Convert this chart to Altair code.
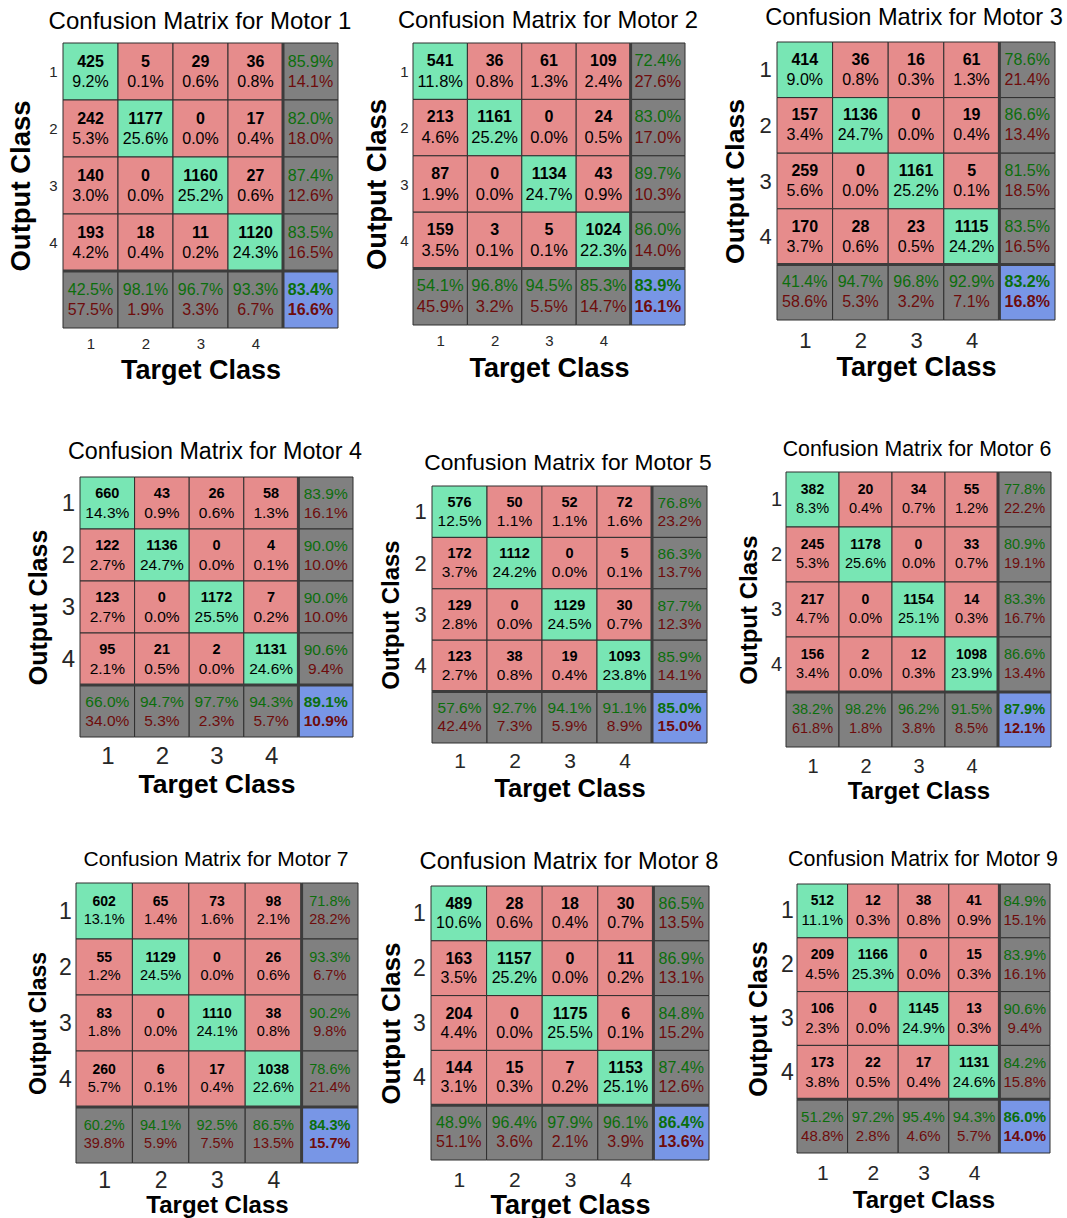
import altair as alt
import pandas as pd

# ---------------------------------------------------------------- data
CLASS_TICKS = [0.5, 1.5, 2.5, 3.5]

counts_1 = [[425, 5, 29, 36], [242, 1177, 0, 17], [140, 0, 1160, 27], [193, 18, 11, 1120]]
pct_1 = [[9.2, 0.1, 0.6, 0.8], [5.3, 25.6, 0.0, 0.4], [3.0, 0.0, 25.2, 0.6], [4.2, 0.4, 0.2, 24.3]]
row_acc_1 = [85.9, 82.0, 87.4, 83.5]
col_acc_1 = [42.5, 98.1, 96.7, 93.3]

counts_2 = [[541, 36, 61, 109], [213, 1161, 0, 24], [87, 0, 1134, 43], [159, 3, 5, 1024]]
pct_2 = [[11.8, 0.8, 1.3, 2.4], [4.6, 25.2, 0.0, 0.5], [1.9, 0.0, 24.7, 0.9], [3.5, 0.1, 0.1, 22.3]]
row_acc_2 = [72.4, 83.0, 89.7, 86.0]
col_acc_2 = [54.1, 96.8, 94.5, 85.3]

counts_3 = [[414, 36, 16, 61], [157, 1136, 0, 19], [259, 0, 1161, 5], [170, 28, 23, 1115]]
pct_3 = [[9.0, 0.8, 0.3, 1.3], [3.4, 24.7, 0.0, 0.4], [5.6, 0.0, 25.2, 0.1], [3.7, 0.6, 0.5, 24.2]]
row_acc_3 = [78.6, 86.6, 81.5, 83.5]
col_acc_3 = [41.4, 94.7, 96.8, 92.9]

counts_4 = [[660, 43, 26, 58], [122, 1136, 0, 4], [123, 0, 1172, 7], [95, 21, 2, 1131]]
pct_4 = [[14.3, 0.9, 0.6, 1.3], [2.7, 24.7, 0.0, 0.1], [2.7, 0.0, 25.5, 0.2], [2.1, 0.5, 0.0, 24.6]]
row_acc_4 = [83.9, 90.0, 90.0, 90.6]
col_acc_4 = [66.0, 94.7, 97.7, 94.3]

counts_5 = [[576, 50, 52, 72], [172, 1112, 0, 5], [129, 0, 1129, 30], [123, 38, 19, 1093]]
pct_5 = [[12.5, 1.1, 1.1, 1.6], [3.7, 24.2, 0.0, 0.1], [2.8, 0.0, 24.5, 0.7], [2.7, 0.8, 0.4, 23.8]]
row_acc_5 = [76.8, 86.3, 87.7, 85.9]
col_acc_5 = [57.6, 92.7, 94.1, 91.1]

counts_6 = [[382, 20, 34, 55], [245, 1178, 0, 33], [217, 0, 1154, 14], [156, 2, 12, 1098]]
pct_6 = [[8.3, 0.4, 0.7, 1.2], [5.3, 25.6, 0.0, 0.7], [4.7, 0.0, 25.1, 0.3], [3.4, 0.0, 0.3, 23.9]]
row_acc_6 = [77.8, 80.9, 83.3, 86.6]
col_acc_6 = [38.2, 98.2, 96.2, 91.5]

counts_7 = [[602, 65, 73, 98], [55, 1129, 0, 26], [83, 0, 1110, 38], [260, 6, 17, 1038]]
pct_7 = [[13.1, 1.4, 1.6, 2.1], [1.2, 24.5, 0.0, 0.6], [1.8, 0.0, 24.1, 0.8], [5.7, 0.1, 0.4, 22.6]]
row_acc_7 = [71.8, 93.3, 90.2, 78.6]
col_acc_7 = [60.2, 94.1, 92.5, 86.5]

counts_8 = [[489, 28, 18, 30], [163, 1157, 0, 11], [204, 0, 1175, 6], [144, 15, 7, 1153]]
pct_8 = [[10.6, 0.6, 0.4, 0.7], [3.5, 25.2, 0.0, 0.2], [4.4, 0.0, 25.5, 0.1], [3.1, 0.3, 0.2, 25.1]]
row_acc_8 = [86.5, 86.9, 84.8, 87.4]
col_acc_8 = [48.9, 96.4, 97.9, 96.1]

counts_9 = [[512, 12, 38, 41], [209, 1166, 0, 15], [106, 0, 1145, 13], [173, 22, 17, 1131]]
pct_9 = [[11.1, 0.3, 0.8, 0.9], [4.5, 25.3, 0.0, 0.3], [2.3, 0.0, 24.9, 0.3], [3.8, 0.5, 0.4, 24.6]]
row_acc_9 = [84.9, 83.9, 90.6, 84.2]
col_acc_9 = [51.2, 97.2, 95.4, 94.3]

overall_acc = [83.4, 83.9, 83.2, 89.1, 85.0, 87.9, 84.3, 86.4, 86.0]

MOTORS = [
    (counts_1, pct_1, row_acc_1, col_acc_1),
    (counts_2, pct_2, row_acc_2, col_acc_2),
    (counts_3, pct_3, row_acc_3, col_acc_3),
    (counts_4, pct_4, row_acc_4, col_acc_4),
    (counts_5, pct_5, row_acc_5, col_acc_5),
    (counts_6, pct_6, row_acc_6, col_acc_6),
    (counts_7, pct_7, row_acc_7, col_acc_7),
    (counts_8, pct_8, row_acc_8, col_acc_8),
    (counts_9, pct_9, row_acc_9, col_acc_9),
]

# ---------------------------------------------------------------- layout
# Each motor sits in a CELL_W x CELL_H cell of a 3x3 grid; the matrix box,
# labels and titles are placed inside the cell (page pixel coordinates).
CELL_W, CELL_H = 355, 406
FONT = "Liberation Sans"

LAYOUT = [
    dict(box=(63, 43, 338, 328), title=(200, 21, 24), xlab=(343, 15), xtitle=(370, 27), ylab=(53, 15), ytitle=(21, 27.5), text=(16, 16, 10)),
    dict(box=(413, 43, 685, 325), title=(548, 20, 23.8), xlab=(340, 15), xtitle=(368, 27), ylab=(404, 15), ytitle=(377, 27.5), text=(16, 16.5, 10.5)),
    dict(box=(777, 42, 1055, 320), title=(914, 17.5, 23.6), xlab=(340, 22), xtitle=(367, 27), ylab=(765, 22), ytitle=(735, 26.5), text=(16, 16, 10)),
    dict(box=(80, 477, 353, 737), title=(215, 451.5, 23.3), xlab=(756, 24), xtitle=(784, 26.5), ylab=(68, 24), ytitle=(38, 25), text=(14.5, 15.5, 9.5)),
    dict(box=(432, 486, 707, 743), title=(568, 462.5, 22.8), xlab=(761, 21), xtitle=(788, 25.5), ylab=(420, 22), ytitle=(391, 24), text=(14.5, 15.5, 9)),
    dict(box=(786, 472, 1051, 747), title=(917, 449.5, 21.3), xlab=(766, 20), xtitle=(791, 24), ylab=(776, 20), ytitle=(749, 24), text=(14, 14.5, 9.5)),
    dict(box=(76, 883, 358, 1163), title=(216, 859.5, 21), xlab=(1180, 23), xtitle=(1205, 24), ylab=(65, 23), ytitle=(38, 23), text=(14, 14.5, 9)),
    dict(box=(431, 886, 709, 1160), title=(569, 861.5, 23.7), xlab=(1180, 21), xtitle=(1205, 27), ylab=(419, 23), ytitle=(391, 26), text=(16, 16, 9.5)),
    dict(box=(797, 884, 1050, 1153), title=(923, 859.5, 21.4), xlab=(1173, 21), xtitle=(1200, 24), ylab=(787, 23), ytitle=(758, 25), text=(14, 15, 9.5)),
]

GREEN, RED, GRAY, BLUE = "#78e6b4", "#e68c8c", "#808080", "#7896e6"
OK_TEXT, ERR_TEXT = "#0c6e0c", "#6e0c0c"
AXIS_TEXT = "#262626"


def matrix_table(counts, pct, row_acc, col_acc, overall):
    recs = []
    for r in range(4):
        for c in range(4):
            recs.append(dict(r=r, c=c, kind="diag" if r == c else "off",
                             top=str(counts[r][c]), bottom=f"{pct[r][c]:.1f}%"))
        recs.append(dict(r=r, c=4, kind="summ",
                         top=f"{row_acc[r]:.1f}%", bottom=f"{100 - row_acc[r]:.1f}%"))
    for c in range(4):
        recs.append(dict(r=4, c=c, kind="summ",
                         top=f"{col_acc[c]:.1f}%", bottom=f"{100 - col_acc[c]:.1f}%"))
    recs.append(dict(r=4, c=4, kind="total",
                     top=f"{overall:.1f}%", bottom=f"{100 - overall:.1f}%"))
    df = pd.DataFrame(recs)
    df["x0"], df["x1"] = df["c"], df["c"] + 1
    df["y0"], df["y1"] = df["r"], df["r"] + 1
    df["xm"], df["ym"] = df["c"] + 0.5, df["r"] + 0.5
    return df


SEPARATORS = pd.DataFrame([
    dict(x=4, x2=4, y=0, y2=5),
    dict(x=0, x2=5, y=4, y2=4),
])


def motor_panel(i):
    counts, pct, row_acc, col_acc = MOTORS[i]
    df = matrix_table(counts, pct, row_acc, col_acc, overall_acc[i])
    L = LAYOUT[i]
    gr, gc = divmod(i, 3)
    ox, oy = gc * CELL_W, gr * CELL_H
    bx0, by0, bx1, by1 = L["box"]
    x_rng = [bx0 - ox, bx1 - ox]
    y_rng = [by0 - oy, by1 - oy]
    xs = alt.Scale(domain=[0, 5], range=x_rng, nice=False, zero=False)
    ys = alt.Scale(domain=[0, 5], range=y_rng, nice=False, zero=False)

    x_axis = alt.Axis(
        title="Target Class", orient="bottom", values=CLASS_TICKS,
        labelExpr="format(datum.value + 0.5, 'd')",
        offset=-(CELL_H - y_rng[1]), domain=False, ticks=False, tickSize=0, grid=False,
        labelFont=FONT, labelFontSize=L["xlab"][1], labelColor=AXIS_TEXT,
        labelBaseline="middle", labelPadding=L["xlab"][0] - by1,
        titleFont=FONT, titleFontSize=L["xtitle"][1], titleFontWeight="bold",
        titleColor="black", titleBaseline="middle", titleY=L["xtitle"][0] - by1,
    )
    y_axis = alt.Axis(
        title="Output Class", orient="left", values=CLASS_TICKS,
        labelExpr="format(datum.value + 0.5, 'd')",
        offset=-x_rng[0], domain=False, ticks=False, tickSize=0, grid=False,
        labelFont=FONT, labelFontSize=L["ylab"][1], labelColor=AXIS_TEXT,
        labelAlign="center", labelBaseline="middle", labelPadding=bx0 - L["ylab"][0],
        titleFont=FONT, titleFontSize=L["ytitle"][1], titleFontWeight="bold",
        titleColor="black", titleBaseline="middle", titleX=L["ytitle"][0] - bx0,
    )

    base = alt.Chart(df)
    cells = base.mark_rect(stroke="#2e2e2e", strokeWidth=1).encode(
        x=alt.X("x0:Q", scale=xs, axis=x_axis),
        x2="x1:Q",
        y=alt.Y("y0:Q", scale=ys, axis=y_axis),
        y2="y1:Q",
        color=alt.Color("kind:N", legend=None,
                        scale=alt.Scale(domain=["diag", "off", "summ", "total"],
                                        range=[GREEN, RED, GRAY, BLUE])),
    )
    seps = alt.Chart(SEPARATORS).mark_rule(color="#3c3c3c", strokeWidth=3).encode(
        x=alt.X("x:Q", scale=xs, axis=x_axis), x2="x2:Q",
        y=alt.Y("y:Q", scale=ys, axis=y_axis), y2="y2:Q",
    )

    count_fs, pct_fs, gap = L["text"]

    def line(field, kinds, dy, size, weight, color):
        return base.transform_filter(
            alt.FieldOneOfPredicate(field="kind", oneOf=kinds)
        ).mark_text(font=FONT, fontSize=size, fontWeight=weight, color=color,
                    baseline="middle", align="center", dy=dy).encode(
            x=alt.X("xm:Q", scale=xs, axis=x_axis),
            y=alt.Y("ym:Q", scale=ys, axis=y_axis),
            text=f"{field}:N",
        )

    texts = [
        line("top", ["diag", "off"], -gap, count_fs, "bold", "black"),
        line("bottom", ["diag", "off"], gap, pct_fs, "normal", "black"),
        line("top", ["summ"], -gap, pct_fs, "normal", OK_TEXT),
        line("bottom", ["summ"], gap, pct_fs, "normal", ERR_TEXT),
        line("top", ["total"], -gap, pct_fs, "bold", OK_TEXT),
        line("bottom", ["total"], gap, pct_fs, "bold", ERR_TEXT),
    ]

    # the title group sits one line height above its anchor, hence the extra shift
    tx, ty, tfs = L["title"]
    return alt.layer(cells, seps, *texts).properties(
        width=CELL_W, height=CELL_H,
        title=alt.TitleParams(
            text=f"Confusion Matrix for Motor {i + 1}", font=FONT, fontSize=tfs,
            fontWeight="normal", color="black", anchor="middle", frame="group",
            baseline="middle", orient="top",
            offset=-(ty - oy + tfs + 0.7), dx=tx - ox - CELL_W / 2,
        ),
    )


chart = alt.concat(
    *[motor_panel(i) for i in range(9)],
    columns=3, spacing=0, bounds="flush", align="all",
).properties(padding=0, background="white").configure_view(stroke=None)

chart.save("out.html", embed_options={"renderer": "svg", "actions": False})
